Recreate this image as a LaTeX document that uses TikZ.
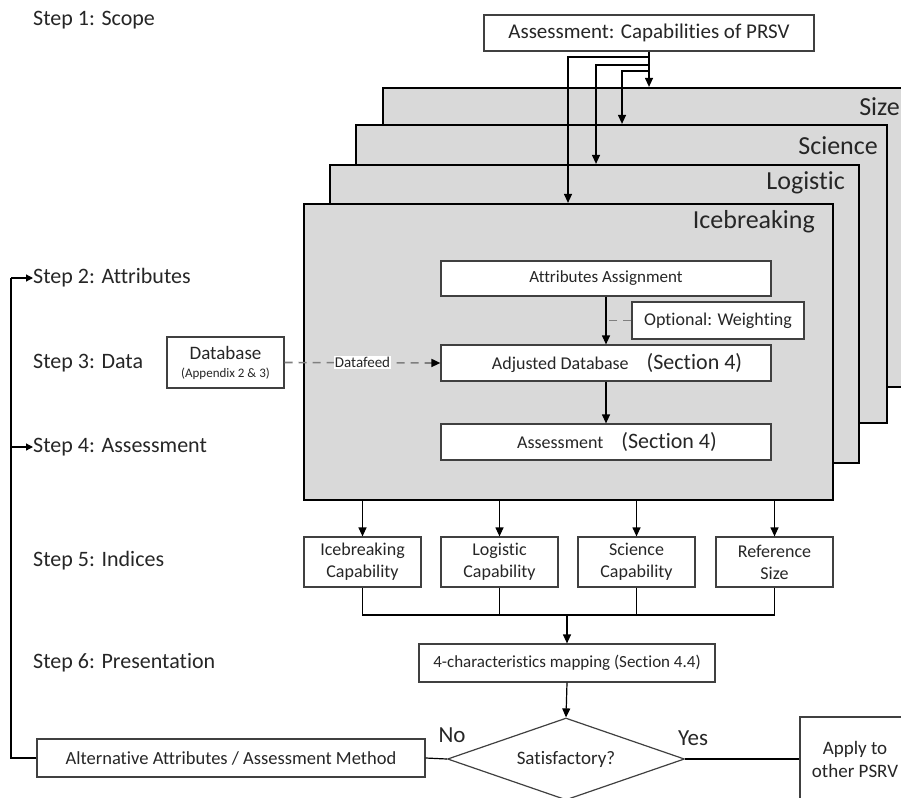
\documentclass[tikz,border=0pt]{standalone}
\usepackage{fontspec}
\setmainfont{Carlito}[Ligatures=CommonOff]
\usetikzlibrary{arrows.meta,shapes.geometric}
\definecolor{panelgray}{HTML}{D9D9D9}
\definecolor{txt}{HTML}{262626}
\definecolor{dashgray}{HTML}{7F7F7F}
\definecolor{boxline}{HTML}{404040}
\begin{document}
\begin{tikzpicture}[x=1pt,y=-1pt,
 panel/.style={draw=black,line width=2.2pt,fill=panelgray,inner sep=0pt},
 wbox/.style={draw=boxline,line width=1.2pt,fill=white,inner sep=0pt,align=center,font=\fontsize{18}{22}\selectfont,text=txt},
 steplbl/.style={anchor=west,font=\fontsize{22}{24}\selectfont,text=txt,inner sep=0pt},
 plbl/.style={anchor=east,font=\fontsize{26}{28}\selectfont,text=txt,inner sep=0pt},
 arr/.style={line width=1.2pt,-{Triangle[length=9pt,width=8pt]}},
 conn/.style={line width=1.2pt},
 dashln/.style={line width=1.6pt,draw=dashgray,dash pattern=on 8pt off 6pt},
 yesno/.style={font=\fontsize{23}{25}\selectfont,text=txt,inner sep=0pt},
]
\clip (0,0) rectangle (901,797);

% step labels
\node[steplbl] (s1) at (33,20) {Step 1: Scope};
\node[steplbl] (s2) at (33,278) {Step 2: Attributes};
\node[steplbl] (s3) at (33,363) {Step 3: Data};
\node[steplbl] (s4) at (33,447) {Step 4: Assessment};
\node[steplbl] (s5) at (33,561) {Step 5: Indices};
\node[steplbl] (s6) at (33,663) {Step 6: Presentation};

% panels
\node[panel,minimum width=537pt,minimum height=299pt] (size) at (651.5,237.5) {};
\node[plbl] (sizel) at (900,107) {Size};
\node[panel,minimum width=531pt,minimum height=298pt] (sci) at (621.5,274) {};
\node[plbl] (scil) at (878,146) {Science};
\node[panel,minimum width=529pt,minimum height=298pt] (log) at (594.5,314) {};
\node[plbl] (logl) at (845,183) {Logistic};
\node[panel,minimum width=529pt,minimum height=296pt] (ice) at (568.5,352) {};
\node[plbl] (icel) at (815,222) {Icebreaking};

% top box
\node[wbox,minimum width=330pt,minimum height=36pt,font=\fontsize{21}{24}\selectfont] (top) at (649,33) {Assessment: Capabilities of PRSV};
\draw[arr] (top.south) -- (top.south |- size.north);
\draw[arr] (top.south) |- (622,71) -- (622,71 |- sci.north);
\draw[arr] (top.south) |- (596,65) -- (596,65 |- log.north);
\draw[arr] (top.south) |- (568,57) -- (568,57 |- ice.north);

% inner boxes
\node[wbox,minimum width=330pt,minimum height=35pt,font=\fontsize{17}{20}\selectfont] (attr) at (606,278.5) {Attributes Assignment};
\node[wbox,minimum width=172pt,minimum height=37pt] (opt) at (718,320.5) {Optional: Weighting};
\node[wbox,minimum width=330pt,minimum height=36pt] (adj) at (606,363) {\hspace*{22pt}Adjusted Database\quad{\fontsize{22}{24}\selectfont(Section 4)}};
\node[wbox,minimum width=330pt,minimum height=36pt] (ass) at (606,442) {\hspace*{22pt}Assessment\quad{\fontsize{22}{24}\selectfont(Section 4)}};
\draw[arr] (attr.south) -- (adj.north);
\draw[arr] (adj.south) -- (ass.north);
\draw[dashln] (opt.west) -- (attr.south |- opt.west);

% database
\node[wbox,minimum width=117pt,minimum height=51pt,font=\fontsize{19}{20}\selectfont] (db) at (225.5,362.5) {Database\\[-2pt]{\fontsize{13}{15}\selectfont(Appendix 2 \& 3)}};
\draw[dashln,-{Triangle[length=9pt,width=8pt,color=black]}] (db.east) -- node[fill=white,inner sep=1pt,text=txt,font=\fontsize{15}{17}\selectfont] (df) {Datafeed} (adj.west);

% indices
\node[wbox,minimum width=117pt,minimum height=50pt] (ib) at (362.5,562) {Icebreaking\\Capability};
\node[wbox,minimum width=117pt,minimum height=50pt] (lc) at (499.5,562) {Logistic\\Capability};
\node[wbox,minimum width=117pt,minimum height=50pt] (sc) at (636.5,562) {Science\\Capability};
\node[wbox,minimum width=117pt,minimum height=50pt] (rs) at (774.5,562) {Reference\\Size};
\foreach \n in {ib,lc,sc,rs} {\draw[arr] (\n.north |- ice.south) -- (\n.north);}
\coordinate (m) at (567,615);
\draw[conn] (ib.south) |- (m) -| (rs.south);
\draw[conn] (lc.south) -- (lc.south |- m);
\draw[conn] (sc.south) -- (sc.south |- m);

% mapping
\node[wbox,minimum width=296pt,minimum height=38pt,font=\fontsize{17}{20}\selectfont] (map) at (567,663) {4-characteristics mapping (Section 4.4)};
\draw[arr] (m) -- (map.north);

% decision
\node[draw=boxline,line width=1.2pt,fill=white,shape=diamond,aspect=2.9,inner sep=0pt,minimum width=237pt,minimum height=82pt,font=\fontsize{19}{22}\selectfont,text=txt] (sat) at (566,759) {Satisfactory?};
\draw[arr] (map.south) -- (sat.north);
\node[wbox,minimum width=388pt,minimum height=38pt,font=\fontsize{18.5}{22}\selectfont] (alt) at (231,758) {Alternative Attributes / Assessment Method};
\node[wbox,minimum width=110pt,minimum height=84pt,font=\fontsize{19}{23}\selectfont] (apply) at (855,759) {Apply to\\other PSRV};
\draw[conn] (sat.west) -- (alt.east);
\draw[conn] (sat.east) -- (apply.west);
\node[yesno] (no) at (452,735) {No};
\node[yesno] (yes) at (693,738) {Yes};

% feedback
\coordinate (fbt) at (11,278);
\draw[conn] (alt.west) -| (fbt);
\draw[line width=1.2pt,-{Triangle[length=7pt,width=7pt]}] (fbt) -- (s2.west);
\draw[line width=1.2pt,-{Triangle[length=7pt,width=7pt]}] (fbt |- s4.west) -- (s4.west);
\end{tikzpicture}
\end{document}
